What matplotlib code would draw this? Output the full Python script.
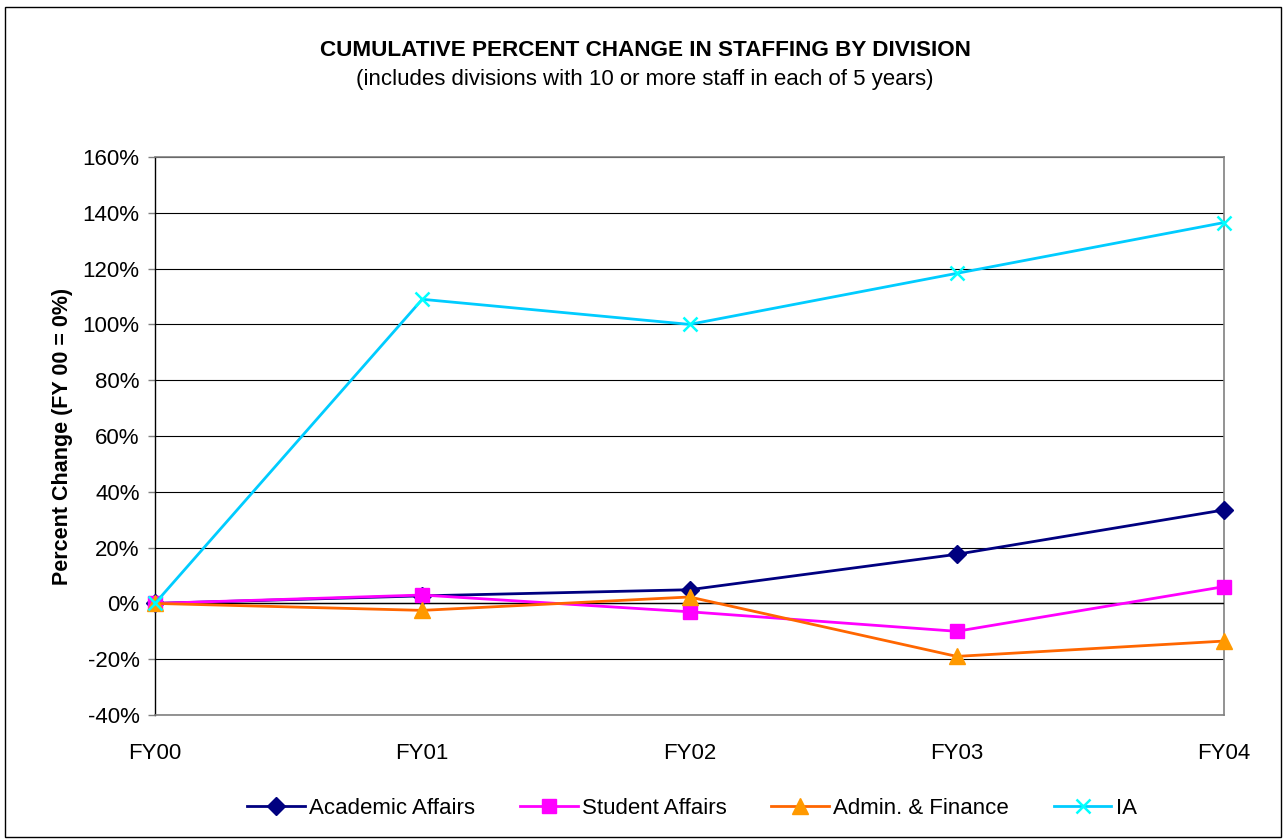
import matplotlib.pyplot as plt
from matplotlib.patches import Rectangle
from matplotlib.ticker import FuncFormatter

plt.rcParams["font.family"] = ["Liberation Sans", "DejaVu Sans"]

years = ["FY00", "FY01", "FY02", "FY03", "FY04"]
academic = [0.0, 2.7, 4.9, 17.6, 33.5]
student = [0.0, 3.0, -3.0, -10.0, 6.0]
admin = [0.0, -2.5, 2.3, -19.0, -13.5]
ia = [0.0, 109.0, 100.0, 118.3, 136.5]

fig = plt.figure(figsize=(12.84, 8.4), dpi=100)
ax = fig.add_axes([155 / 1284, 1 - 715 / 840, (1224 - 155) / 1284, (715 - 157) / 840])

x = range(len(years))
ax.plot(x, academic, color="#000080", lw=2, marker="D", ms=9,
        mfc="#000080", mec="#000080", label="Academic Affairs", zorder=4, clip_on=False)
ax.plot(x, student, color="#FF00FF", lw=2, marker="s", ms=10.5,
        mfc="#FF00FF", mec="#FF00FF", label="Student Affairs", zorder=4, clip_on=False)
ax.plot(x, admin, color="#FF6600", lw=2, marker="^", ms=11,
        mfc="#FF9900", mec="#FF9900", label="Admin. & Finance", zorder=4, clip_on=False)
ax.plot(x, ia, color="#00CCFF", lw=2, marker="x", ms=10, mew=1.8,
        mec="#00FFFF", label="IA", zorder=5, clip_on=False)

ax.set_xlim(0, 4)
ax.set_ylim(-40, 160)
ax.set_yticks(range(-40, 161, 20))
ax.yaxis.set_major_formatter(FuncFormatter(lambda v, p: f"{v:.0f}%"))
ax.set_xticks(list(x))
ax.set_xticklabels(years)
ax.grid(axis="y", color="black", lw=0.8)
ax.axhline(0, color="black", lw=1, zorder=3)
ax.set_axisbelow(True)

for side in ("top", "right", "bottom"):
    ax.spines[side].set_color("#808080")
    ax.spines[side].set_linewidth(1.2)
ax.spines["left"].set_color("black")
ax.spines["left"].set_linewidth(1)
ax.tick_params(axis="y", length=5, width=1, color="#808080", labelsize=16, pad=6)
ax.tick_params(axis="x", length=0, labelsize=16, pad=20)

ax.set_ylabel("Percent Change (FY 00 = 0%)", fontsize=15.5, fontweight="bold", labelpad=7)

fig.text(645 / 1284, 1 - 50 / 840, "CUMULATIVE PERCENT CHANGE IN STAFFING BY DIVISION",
         ha="center", va="center", fontsize=16.2, fontweight="bold")
fig.text(645 / 1284, 1 - 80 / 840, "(includes divisions with 10 or more staff in each of 5 years)",
         ha="center", va="center", fontsize=16)

ax.legend(loc="center", bbox_to_anchor=(692 / 1284, 1 - 808 / 840),
          bbox_transform=fig.transFigure, ncol=4, frameon=False,
          fontsize=16, handlelength=2.6, columnspacing=2.0, handletextpad=0.2)

fig.patches.append(Rectangle((5 / 1284, 3 / 840), 1276 / 1284, 830 / 840,
                             transform=fig.transFigure, fill=False,
                             edgecolor="black", lw=1))

fig.savefig("out.png", dpi=100)
